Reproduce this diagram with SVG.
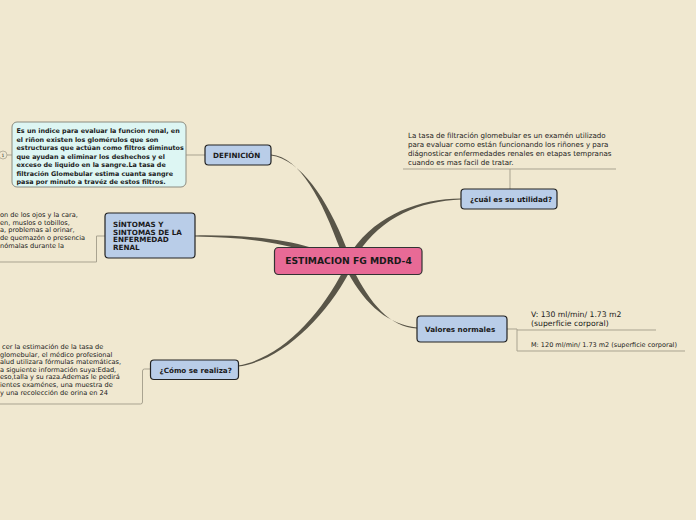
<svg xmlns="http://www.w3.org/2000/svg" width="696" height="520" viewBox="0 0 696 520">
<style>
text{font-family:"DejaVu Sans","Verdana",sans-serif;fill:#1a1a1a}
.b{font-weight:bold}
.node{fill:#B9CDE8;stroke:#222;stroke-width:1.2}
.main{fill:#E86A96;stroke:#333;stroke-width:1.2}
.conn{fill:#595548}
.ul{fill:none;stroke:#A9A390;stroke-width:1}
.t{font-size:6.6px}
.n{font-size:7.2px}
</style>
<rect width="696" height="520" fill="#F0E8D0"/>
<g id="connectors">
<path class="conn" d="M271,155.6 C300,159.2 327.4,199.1 346,246.9 L340,249.1 C322.6,200.9 300,156.8 271,154.4 Z"/>
<path class="conn" d="M195,236.6 C240,237.2 279.4,241.9 309.2,252.4 L310.8,247.6 C280.6,238.1 240,234.8 195,235.4 Z"/>
<path class="conn" d="M461,199.6 C420,201.2 382.1,216.4 357.7,253.8 L352.3,250.2 C377.9,213.6 420,198.8 461,198.4 Z"/>
<path class="conn" d="M417,328.6 C390,327.2 370.2,303.9 352.7,268.6 L347.3,271.4 C365.8,306.2 390,324.8 417,327.4 Z"/>
<path class="conn" d="M238,366.6 C280,361.2 324.2,319.2 349.7,271.4 L344.3,268.6 C319.8,316.8 280,358.8 238,365.4 Z"/>
<path class="ul" d="M186,155 H205"/>
<path class="ul" d="M7,155 H12"/>
<path class="ul" d="M105,236 H96.5 V262 H0"/>
<path class="ul" d="M150,369 H144.5 Q142.5,369 142.5,371 V402 Q142.5,404 140.5,404 H0"/>
<path class="ul" d="M510,189 V169 M403,169 H616"/>
<path class="ul" d="M507,329 H517 V351 H685 M517,330 H656"/>
</g>
<g id="center">
<rect class="main" x="274.5" y="247.5" width="147.5" height="27" rx="4"/>
<text class="b" x="348.5" y="264.2" font-size="9.2" text-anchor="middle">ESTIMACION FG MDRD-4</text>
</g>
<g id="definicion">
<rect class="node" x="205" y="145" width="66" height="20" rx="3.5"/>
<text class="b n" x="213" y="158">DEFINICIÓN</text>
</g>
<g id="definicion-text">
<rect x="12" y="122" width="174" height="65" rx="5" fill="#DDF6F3" stroke="#8C8C80" stroke-width="1"/>
<text class="b" font-size="6.4" x="16.5">
<tspan x="16.5" y="133">Es un indice para  evaluar la funcion renal, en</tspan>
<tspan x="16.5" y="141.5">el riñon existen los glomérulos que son</tspan>
<tspan x="16.5" y="150">estructuras que actúan como filtros diminutos</tspan>
<tspan x="16.5" y="158.5">que ayudan a eliminar los deshechos y el</tspan>
<tspan x="16.5" y="167">exceso de liquido en la sangre.La tasa de</tspan>
<tspan x="16.5" y="175.5">filtración Glomebular  estima cuanta sangre</tspan>
<tspan x="16.5" y="184">pasa por minuto a travéz de estos filtros.</tspan>
</text>
</g>
<g id="marker-1">
<circle cx="3" cy="155" r="4" fill="#F0E8D0" stroke="#A9A390" stroke-width="0.8"/>
<text x="3" y="157" font-size="4.5" text-anchor="middle" fill="#888">1</text>
</g>
<g id="sintomas">
<rect class="node" x="105" y="213" width="90" height="45" rx="3.5"/>
<text class="b n">
<tspan x="113" y="227">SÍNTOMAS Y</tspan>
<tspan x="113" y="234.7">SINTOMAS DE LA</tspan>
<tspan x="113" y="242.4">ENFERMEDAD</tspan>
<tspan x="113" y="250.1">RENAL</tspan>
</text>
</g>
<g id="sintomas-text">
<text class="t">
<tspan x="0" y="217">on de los ojos y la cara,</tspan>
<tspan x="0" y="224.7">en, muslos o tobillos,</tspan>
<tspan x="0" y="232.4">a, problemas al orinar,</tspan>
<tspan x="0" y="240.1">de quemazón o presencia</tspan>
<tspan x="0" y="247.8">nómalas durante la</tspan>
</text>
</g>
<g id="como">
<rect class="node" x="150.5" y="360" width="88" height="19.5" rx="3.5"/>
<text class="b n" x="159.5" y="372.5">¿Cómo se realiza?</text>
</g>
<g id="como-text">
<text class="t">
<tspan x="2" y="349">cer la estimación de la tasa de</tspan>
<tspan x="0" y="356.6">glomebular, el médico profesional</tspan>
<tspan x="0" y="364.2">alud utilizara fórmulas matemáticas,</tspan>
<tspan x="0" y="371.8">a siguiente información suya:Edad,</tspan>
<tspan x="0" y="379.4">eso,talla y su raza.Ademas le pedirá</tspan>
<tspan x="0" y="387">ientes examénes, una muestra de</tspan>
<tspan x="0" y="394.6">y una recolección de orina en 24</tspan>
</text>
</g>
<g id="utilidad">
<rect class="node" x="461" y="189" width="96" height="20" rx="3.5"/>
<text class="b n" x="470" y="202">¿cuál es su utilidad?</text>
</g>
<g id="utilidad-text">
<text font-size="7.1">
<tspan x="408" y="137.5">La tasa de filtración glomebular es un examén utilizado</tspan>
<tspan x="408" y="146.5">para evaluar como están funcionando los riñones y para</tspan>
<tspan x="408" y="155.5">diágnosticar enfermedades renales en etapas tempranas</tspan>
<tspan x="408" y="164.5">cuando es mas facil de tratar.</tspan>
</text>
</g>
<g id="valores">
<rect class="node" x="417" y="316" width="90" height="26" rx="3.5"/>
<text class="b n" x="425" y="332">Valores normales</text>
</g>
<g id="valores-v">
<text font-size="7.7">
<tspan x="531" y="317">V: 130 ml/min/ 1.73 m2</tspan>
<tspan x="531" y="326">(superficie corporal)</tspan>
</text>
</g>
<g id="valores-m">
<text font-size="6.5" x="531" y="347">M: 120 ml/min/ 1.73 m2 (superficie corporal)</text>
</g>
</svg>
